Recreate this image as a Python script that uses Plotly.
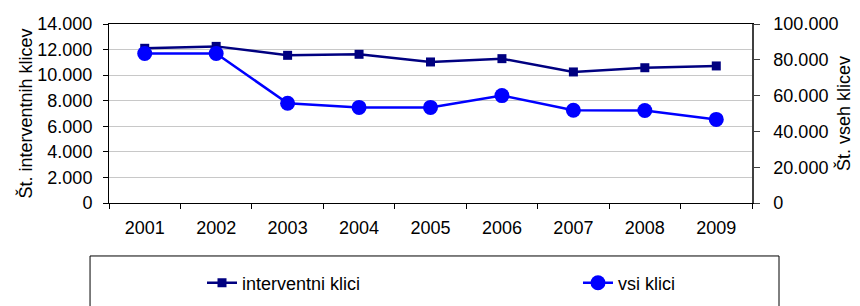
import plotly.graph_objects as go

years = ["2001", "2002", "2003", "2004", "2005", "2006", "2007", "2008", "2009"]
interventni = [12100, 12250, 11550, 11630, 11030, 11290, 10250, 10580, 10720]
vsi = [83500, 83500, 55700, 53400, 53400, 60000, 51800, 51700, 46700]

FONT = "Liberation Sans, Arial, sans-serif"

fig = go.Figure()
fig.add_trace(go.Scatter(
    x=years, y=interventni, name="interventni klici", mode="lines+markers",
    line=dict(color="#000080", width=2.5),
    marker=dict(symbol="square", size=9, color="#000080"),
    yaxis="y", legend="legend",
))
fig.add_trace(go.Scatter(
    x=years, y=vsi, name="vsi klici", mode="lines+markers",
    line=dict(color="#0000FF", width=2.5),
    marker=dict(symbol="circle", size=15, color="#0000FF"),
    yaxis="y2", legend="legend2",
))

legend_common = dict(
    orientation="h", yref="container", xref="container",
    y=0.0772, yanchor="middle", xanchor="left",
    bgcolor="rgba(0,0,0,0)", borderwidth=0, font=dict(size=18),
)

# the page body has an 8px margin, so the figure is 8px smaller and shifted
fig.update_layout(
    width=852, height=298,
    margin=dict(l=101, r=108, t=16, b=103, autoexpand=False),
    paper_bgcolor="white", plot_bgcolor="white",
    separators=",.",
    font=dict(family=FONT, size=18, color="black"),
    xaxis=dict(
        type="category", categoryorder="array", categoryarray=years,
        range=[-0.5, 8.5], tickson="boundaries", automargin=False,
        ticks="outside", ticklen=5, tickcolor="black",
        showline=True, linecolor="black", linewidth=1, mirror=True,
        showgrid=False, tickfont=dict(size=18), ticklabelstandoff=8,
    ),
    yaxis=dict(
        range=[0, 14000], dtick=2000, tickformat=",d", automargin=False,
        ticks="outside", ticklen=5, tickcolor="black",
        showline=True, linecolor="black", linewidth=1,
        showgrid=True, gridcolor="#C8C8C8", gridwidth=1, zeroline=False,
        title=dict(text="Št. interventnih klicev", font=dict(size=18), standoff=0),
        tickfont=dict(size=18), ticklabelstandoff=7,
    ),
    yaxis2=dict(
        range=[0, 100000], dtick=20000, tickformat=",d", automargin=False,
        overlaying="y", side="right",
        ticks="outside", ticklen=6, tickcolor="#404040",
        showline=True, linecolor="#404040", linewidth=1.5,
        showgrid=False, zeroline=False,
        title=dict(text="Št. vseh klicev", font=dict(size=18), standoff=0),
        tickfont=dict(size=18), ticklabelstandoff=10,
    ),
    showlegend=True,
    legend=dict(x=0.2277, **legend_common),
    legend2=dict(x=0.669, **legend_common),
    shapes=[dict(
        type="rect", xref="paper", yref="paper",
        x0=-0.0295, x1=1.042, y0=-0.296, y1=-0.75,
        line=dict(color="black", width=1), fillcolor="rgba(0,0,0,0)",
        layer="below",
    )],
)

fig.write_html("out.html")
